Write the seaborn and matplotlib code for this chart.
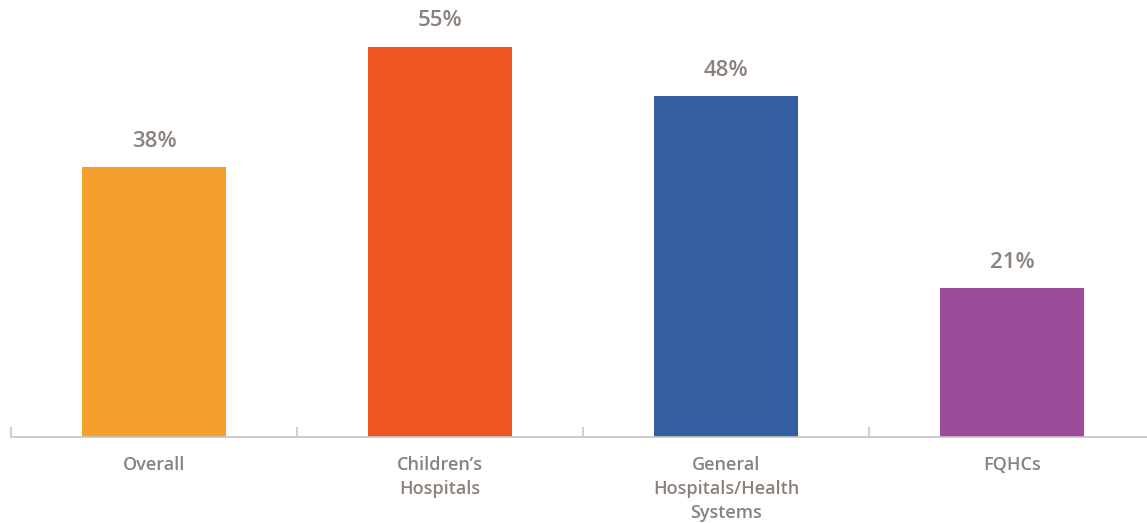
import matplotlib
matplotlib.use('Agg')
import matplotlib.pyplot as plt
import pandas as pd
import seaborn as sns

categories = ['Overall', "Children’s\nHospitals", 'General\nHospitals/Health\nSystems', 'FQHCs']
values = [38, 55, 48, 21]
colors = ['#F49E2C', '#EF5623', '#335E9F', '#9C4A9A']

df = pd.DataFrame({'category': categories, 'value': values})

sns.set_style('white')
plt.rcParams['font.family'] = ['Open Sans', 'DejaVu Sans']

text_color = '#8a817b'
axis_color = '#cbc5c1'

fig = plt.figure(figsize=(11.47, 5.23), dpi=100)
ax = fig.add_axes([11 / 1147, 86 / 523, 1136 / 1147, 426 / 523])

sns.barplot(data=df, x='category', y='value', hue='category', palette=colors,
            width=0.503, saturation=1, legend=False, linewidth=0, ax=ax)

ax.set_xlim(-0.5, 3.472)
ax.set_ylim(0, 60)
ax.set_xlabel('')
ax.set_ylabel('')
ax.set_yticks([])

for c in ax.containers:
    ax.bar_label(c, labels=[f'{v:.0f}%' for v in c.datavalues], padding=11,
                 fontsize=16, fontweight='semibold', color=text_color)

ax.set_xticks(range(len(categories)))
ax.set_xticklabels(categories, fontsize=13, fontweight='semibold',
                   color=text_color, linespacing=1.43, va='top')
ax.tick_params(axis='x', which='major', bottom=False, length=0, pad=14)
ax.set_xticks([-0.5, 0.5, 1.5, 2.5], minor=True)
ax.tick_params(axis='x', which='minor', bottom=True, direction='in', length=7.5,
               width=1.2, color=axis_color)

for s in ['top', 'right', 'left']:
    ax.spines[s].set_visible(False)
ax.spines['bottom'].set_color(axis_color)
ax.spines['bottom'].set_linewidth(1.2)

fig.savefig('out.png', dpi=100)
